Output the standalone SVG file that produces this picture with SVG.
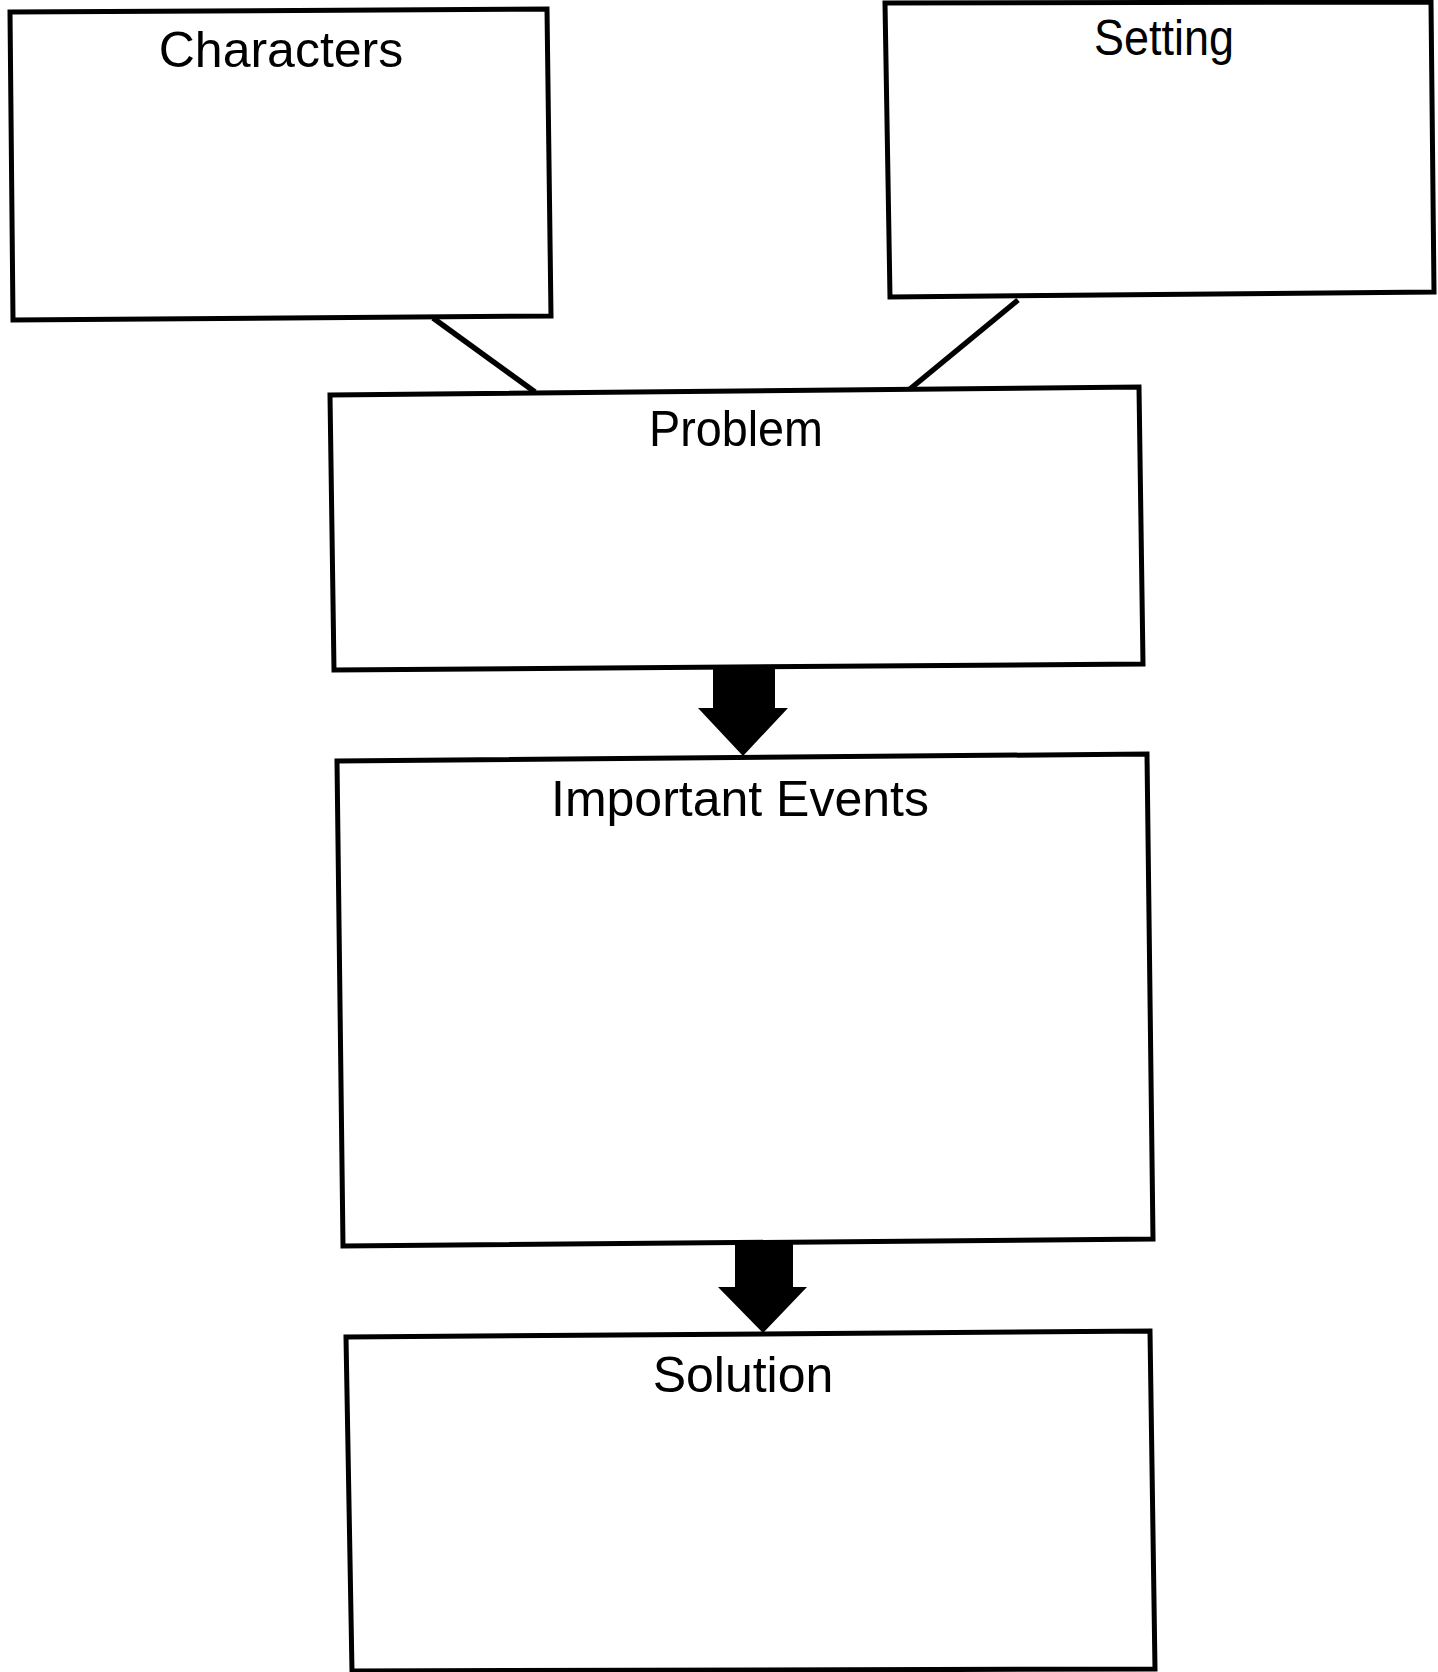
<svg xmlns="http://www.w3.org/2000/svg" width="1438" height="1672" viewBox="0 0 1438 1672">
<style>
.box{fill:#fff;stroke:#000;stroke-width:5;stroke-linejoin:miter}
.lbl{font-family:"Liberation Sans",Arial,sans-serif;font-size:50px;fill:#000;text-anchor:middle}
.link{stroke:#000;stroke-width:5.5;fill:none}
.arrow{fill:#000;stroke:none}
</style>
<rect width="1438" height="1672" fill="#fff"/>
<g id="connectors">
<line class="link" x1="433" y1="318" x2="535" y2="392"/>
<line class="link" x1="1018" y1="300" x2="910" y2="389"/>
<polygon class="arrow" points="713,666 775,666 775,708 788,708 743,756 698,708 713,708"/>
<polygon class="arrow" points="735,1240 793,1240 793,1287 807,1287 763,1333 718,1287 735,1287"/>
</g>
<g id="characters">
<polygon class="box" points="10,12 547,9 551,316 13,320"/>
<text class="lbl" x="281" y="67">Characters</text>
</g>
<g id="setting">
<polygon class="box" points="885,3 1431,2 1434,292 890,297"/>
<text class="lbl" x="1164" y="55" textLength="140" lengthAdjust="spacingAndGlyphs">Setting</text>
</g>
<g id="problem">
<polygon class="box" points="330,395 1139,387 1143,664 334,670"/>
<text class="lbl" x="736" y="446" textLength="174" lengthAdjust="spacingAndGlyphs">Problem</text>
</g>
<g id="important-events">
<polygon class="box" points="337,761 1147,754 1153,1239 343,1246"/>
<text class="lbl" x="740" y="816">Important Events</text>
</g>
<g id="solution">
<polygon class="box" points="346,1337 1150,1331 1155,1669 352,1671"/>
<text class="lbl" x="743" y="1392">Solution</text>
</g>
</svg>
